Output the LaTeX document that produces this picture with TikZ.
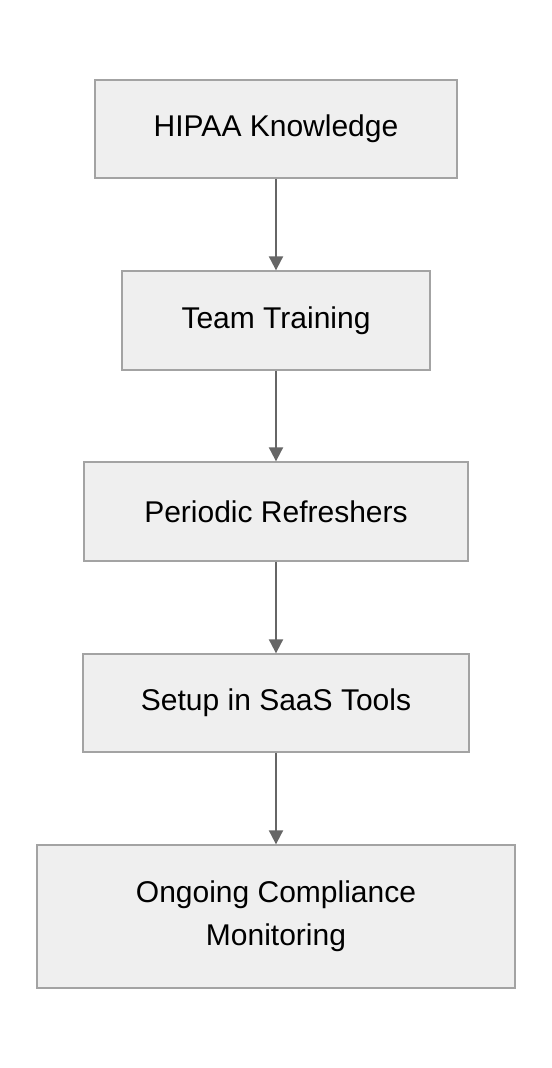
\documentclass[tikz,border=0pt]{standalone}
\usepackage{fontspec}
\setmainfont{Liberation Sans}
\usetikzlibrary{arrows.meta}
\definecolor{boxfill}{HTML}{EFEFEF}
\definecolor{boxline}{HTML}{A3A3A3}
\definecolor{arrowline}{HTML}{666666}
\tikzset{
  stepnode/.style={draw=boxline, fill=boxfill, line width=1pt, inner sep=0pt,
    align=center, font=\fontsize{22.5}{32.5}\selectfont},
  flowarrow/.style={draw=arrowline, line width=1.5pt,
    -{Triangle[length=10.5pt, width=10.5pt]}}
}
\begin{document}
\begin{tikzpicture}[x=0.75pt, y=-0.75pt]
    \useasboundingbox (0,0) rectangle (552,1068);

    % Drawing the steps
    \node [stepnode, minimum width=271.5pt, minimum height=73.5pt] (knowledge) at (276,129) {HIPAA Knowledge};
    \node [stepnode, minimum width=231pt, minimum height=74.25pt] (training) at (276,320.5) {Team Training};
    \node [stepnode, minimum width=288pt, minimum height=74.25pt] (refreshers) at (276,511.5) {Periodic Refreshers};
    \node [stepnode, minimum width=289.5pt, minimum height=73.5pt] (setup) at (276,703) {Setup in SaaS Tools};
    \node [stepnode, minimum width=358.5pt, minimum height=107.25pt] (monitoring) at (276,916.5) {Ongoing Compliance\\Monitoring};

    % Drawing the arrows
    \draw [flowarrow] (knowledge) -- (training);
    \draw [flowarrow] (training) -- (refreshers);
    \draw [flowarrow] (refreshers) -- (setup);
    \draw [flowarrow] (setup) -- (monitoring);
\end{tikzpicture}
\end{document}
